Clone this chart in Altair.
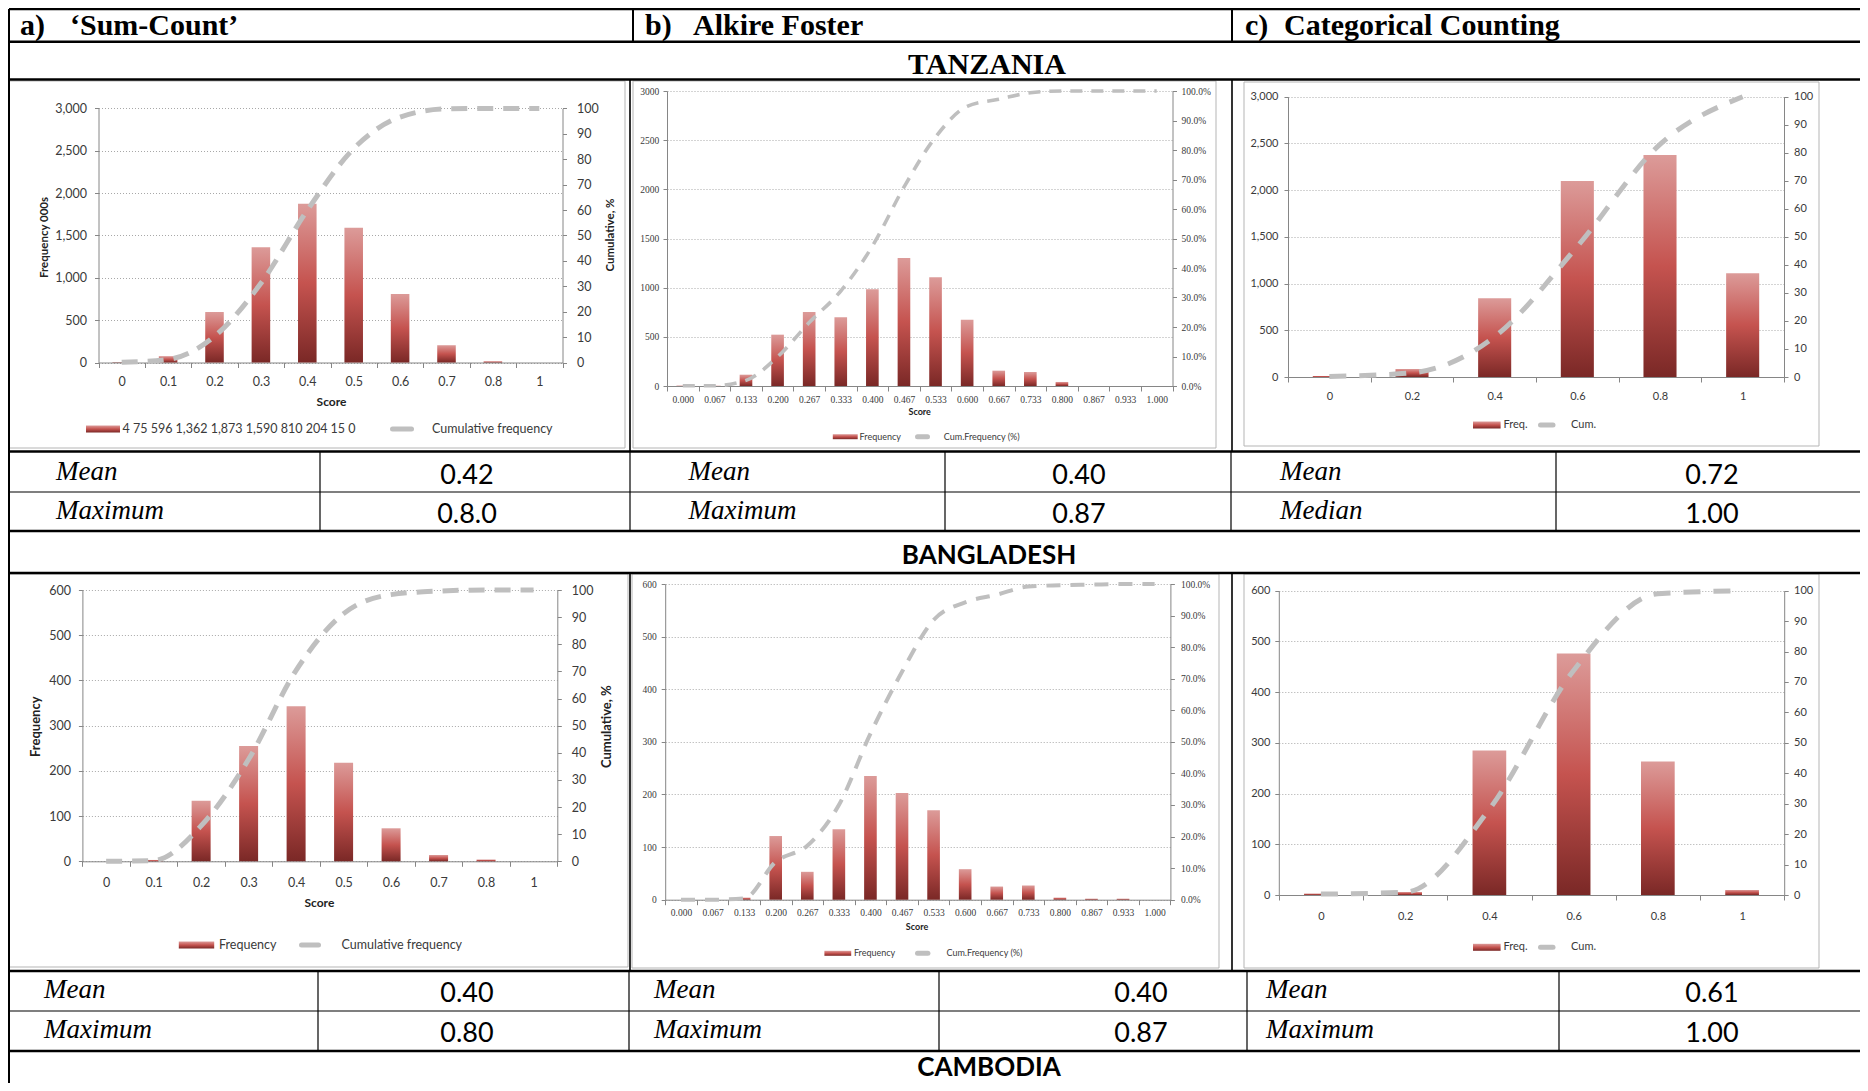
import altair as alt
import pandas as pd

# ---------------------------------------------------------------- data
cats_sum = ["0", "0.1", "0.2", "0.3", "0.4", "0.5", "0.6", "0.7", "0.8", "1"]
cats_af = ["0.000", "0.067", "0.133", "0.200", "0.267", "0.333", "0.400", "0.467",
           "0.533", "0.600", "0.667", "0.733", "0.800", "0.867", "0.933", "1.000"]
cats_cc = ["0", "0.2", "0.4", "0.6", "0.8", "1"]

tz_sum_freq = [4, 75, 596, 1362, 1873, 1590, 810, 204, 15, 0]
tz_sum_cum = [0.1, 1.2, 10.3, 31.2, 59.9, 84.2, 96.6, 99.8, 100, 100]
tz_af_freq = [5, 3, 115, 522, 752, 698, 983, 1302, 1105, 675, 156, 142, 41, 0, 0, 0]
tz_af_cum = [0.1, 0.1, 1.9, 9.9, 21.5, 32.2, 47.4, 67.4, 84.4, 94.8, 97.2, 99.4, 100, 100, 100, 100]
tz_cc_freq = [11, 86, 842, 2098, 2376, 1110]
tz_cc_cum = [0.2, 1.5, 14.4, 46.6, 83.0, 100]

bd_sum_freq = [0, 3, 134, 255, 343, 218, 73, 14, 4, 0]
bd_sum_cum = [0.0, 0.3, 13.1, 37.6, 70.4, 91.3, 98.3, 99.6, 100, 100]
bd_af_freq = [0, 0, 4, 121, 53, 134, 235, 203, 170, 58, 25, 27, 4, 2, 2, 0]
bd_af_cum = [0.0, 0.0, 0.4, 12.0, 17.1, 30.0, 52.6, 72.2, 88.6, 94.2, 96.6, 99.2, 99.6, 99.8, 100, 100]
bd_cc_freq = [3, 6, 285, 476, 263, 10]
bd_cc_cum = [0.3, 0.9, 28.2, 73.8, 99.0, 100]

header_marks = ["a)", "b)", "c)"]
header_names = ["\u2018Sum-Count\u2019", "Alkire Foster", "Categorical Counting"]
countries = ["TANZANIA", "BANGLADESH", "CAMBODIA"]
tz_stat_labels = ["Mean", "Maximum", "Mean", "Maximum", "Mean", "Median"]
tz_stat_values = ["0.42", "0.8.0", "0.40", "0.87", "0.72", "1.00"]
bd_stat_labels = ["Mean", "Maximum", "Mean", "Maximum", "Mean", "Maximum"]
bd_stat_values = ["0.40", "0.80", "0.40", "0.87", "0.61", "1.00"]

legend_sum_tz = [" ".join(f"{v:,}" for v in tz_sum_freq), "Cumulative frequency"]
legend_sum_bd = ["Frequency", "Cumulative frequency"]
legend_af = ["Frequency", "Cum.Frequency (%)"]
legend_cc = ["Freq.", "Cum."]

# ---------------------------------------------------------------- layout (reference pixel coords)
W, H = 1852, 1075
M = 8
AX = "#868686"
LBL = "#3a3a3a"
SANS = "Lato"
SERIF = "Liberation Serif"
GRAD = alt.Gradient(gradient="linear", x1=0, y1=0, x2=0, y2=1, stops=[
    alt.GradientStop(color="#dc9b99", offset=0),
    alt.GradientStop(color="#c5534f", offset=0.5),
    alt.GradientStop(color="#7a2826", offset=1)])


def X(v):
    return v - M


def Y(v):
    return v - M


def panel(cats, freq, cum, box, ymax, ystep, lfmt, pct, st):
    x0, x1, yt, yb = box
    df = pd.DataFrame({"cat": cats, "freq": freq, "cum": cum})
    xs = alt.Scale(type="band", domain=cats, range=[X(x0), X(x1)], paddingInner=0, paddingOuter=0)
    ysl = alt.Scale(domain=[0, ymax], range=[Y(yb), Y(yt)], nice=False, zero=False)
    ysr = alt.Scale(domain=[0, 100], range=[Y(yb), Y(yt)], nice=False, zero=False)
    xaxis = alt.Axis(orient="bottom", offset=Y(yb) - H, tickBand="extent", labelAngle=0, title=None,
                     grid=False, domainColor=AX, tickColor=AX, tickSize=5, labelPadding=st["xpad"],
                     labelFont=st["font"], labelFontSize=st["fs"], labelColor=LBL)
    laxis = alt.Axis(orient="left", offset=-X(x0), values=list(range(0, ymax + 1, ystep)), format=lfmt,
                     title=None, grid=True, gridColor="#a8a8a8", gridDash=[1, 2], gridWidth=1,
                     domainColor=AX, tickColor=AX, tickSize=4, labelPadding=st["lpad"],
                     labelFont=st["font"], labelFontSize=st["fs"], labelColor=LBL)
    rk = dict(orient="right", offset=X(x1) - W, values=list(range(0, 101, 10)), title=None, grid=False,
              domainColor=AX, tickColor=AX, tickSize=4, labelPadding=st["rpad"],
              labelFont=st["font"], labelFontSize=st["fs"], labelColor=LBL)
    if pct:
        rk["labelExpr"] = "format(datum.value, '.1f') + '%'"
    bars = alt.Chart(df).mark_bar(color=GRAD, width=alt.RelativeBandSize(0.4)).encode(
        x=alt.X("cat:N", scale=xs, sort=None, axis=xaxis),
        y=alt.Y("freq:Q", scale=ysl, axis=laxis))
    line = alt.Chart(df).mark_line(color="#bfbfbf", strokeWidth=st["lw"], strokeDash=st["dash"],
                                   interpolate="monotone").encode(
        x=alt.X("cat:N", scale=xs, sort=None, bandPosition=0.5, axis=None),
        y=alt.Y("cum:Q", scale=ysr, axis=alt.Axis(**rk)))
    return [bars, line]


def tlayer(rows, font, size, weight="normal", style="normal", align="left",
           baseline="alphabetic", angle=0, color="black"):
    df = pd.DataFrame(rows, columns=["t", "x", "y"])
    df["x"] = df["x"] - M
    df["y"] = df["y"] - M
    return alt.Chart(df).mark_text(font=font, fontSize=size, fontWeight=weight, fontStyle=style,
                                   align=align, baseline=baseline, angle=angle, color=color).encode(
        x=alt.X("x:Q", scale=None, axis=None), y=alt.Y("y:Q", scale=None, axis=None), text="t:N")


def rlayer(rows):
    df = pd.DataFrame(rows, columns=["x", "x2", "y", "y2", "w", "c"])
    for k in ["x", "x2", "y", "y2"]:
        df[k] = df[k] - M
    return alt.Chart(df).mark_rule().encode(
        x=alt.X("x:Q", scale=None, axis=None), x2="x2:Q",
        y=alt.Y("y:Q", scale=None, axis=None), y2="y2:Q",
        strokeWidth=alt.StrokeWidth("w:Q", scale=None, legend=None),
        color=alt.Color("c:N", scale=None, legend=None))


def boxlayer(rows, **mark):
    df = pd.DataFrame(rows, columns=["x", "x2", "y", "y2"])
    for k in ["x", "x2", "y", "y2"]:
        df[k] = df[k] - M
    return alt.Chart(df).mark_rect(**mark).encode(
        x=alt.X("x:Q", scale=None, axis=None), x2="x2:Q",
        y=alt.Y("y:Q", scale=None, axis=None), y2="y2:Q")


layers = []

# chart frames
frames = [(9, 625, 81, 448), (633, 1216, 81, 448), (1244, 1819, 82, 446),
          (9, 628, 574, 967), (632, 1219, 574, 968), (1244, 1819, 574, 968)]
layers.append(boxlayer(frames, fillOpacity=0, stroke="#b5b5b5", strokeWidth=1))

# table lines
K = "black"
R = []
for yy in [9, 41.7, 79.5, 451.5, 531, 573, 971, 1051]:
    R.append((9, 1870, yy, yy, 2.6, K))
for yy in [492, 1011]:
    R.append((9, 1870, yy, yy, 1.2, K))
R.append((9, 9, 9, 1091, 2, K))
for xx in [633, 1232]:
    R.append((xx, xx, 9, 41.7, 2, K))
for xx in [630, 1232]:
    R.append((xx, xx, 79.5, 451.5, 1.6, K))
    R.append((xx, xx, 573, 971, 1.6, K))
for xx in [320, 630, 945, 1231, 1556]:
    R.append((xx, xx, 451.5, 531, 1.2, K))
for xx in [318, 629, 939, 1247, 1559]:
    R.append((xx, xx, 971, 1051, 1.2, K))
layers.append(rlayer(R))

# panels
stA = dict(font=SANS, fs=12.5, xpad=7.5, lpad=8, rpad=10, lw=5, dash=[16, 10])
stB = dict(font=SERIF, fs=9.5, xpad=3, lpad=4.3, rpad=4.5, lw=3.6, dash=[12, 9])
stC = dict(font=SANS, fs=11, xpad=8, lpad=6, rpad=5.5, lw=5, dash=[17, 13])
stA2 = dict(stA, xpad=10.5)
stB2 = dict(stB, xpad=3.2, lpad=5, rpad=6, lw=4, dash=[14, 10])
stC2 = dict(stC, xpad=10, lpad=5, rpad=5.3)

layers += panel(cats_sum, tz_sum_freq, tz_sum_cum, (98.5, 562.5, 108.4, 362.5), 3000, 500, ",d", False, stA)
layers += panel(cats_af, tz_af_freq, tz_af_cum, (667, 1172.5, 91, 386), 3000, 500, "d", True, stB)
layers += panel(cats_cc, tz_cc_freq, tz_cc_cum, (1288, 1784, 96.7, 377), 3000, 500, ",d", False, stC)
layers += panel(cats_sum, bd_sum_freq, bd_sum_cum, (82.4, 557.3, 590, 861.3), 600, 100, "d", False, stA2)
layers += panel(cats_af, bd_af_freq, bd_af_cum, (665.2, 1170.4, 584, 899.7), 600, 100, "d", True, stB2)
layers += panel(cats_cc, bd_cc_freq, bd_cc_cum, (1278.8, 1784.2, 590.7, 895), 600, 100, "d", False, stC2)

# legends: (swatch x0, x1, text1 x, dash x0, x1, text2 x, y, swatch height)
legs = [
    (86, 120, 122.5, 390, 414, 432, 429, 7, legend_sum_tz, 12.5, SANS),
    (832.8, 857.7, 859.6, 915, 930, 943.8, 436.7, 5, legend_af, 9, SANS),
    (1473, 1500.6, 1503.4, 1538, 1555.5, 1571, 425, 7, legend_cc, 11, SANS),
    (178.8, 214.2, 219, 299, 321, 341.5, 945, 7, legend_sum_bd, 12.5, SANS),
    (824.4, 851.2, 853.9, 915, 930.4, 946.5, 953.3, 5, legend_af, 9, SANS),
    (1473, 1500.6, 1503.4, 1538, 1555.5, 1571, 947.3, 7, legend_cc, 11, SANS),
]
sw = []
dashes = []
for a0, a1, t1, d0, d1, t2, ly, hh, texts, fs, fnt in legs:
    sw.append((a0, a1, ly - hh / 2, ly + hh / 2))
    dashes.append((d0 + 2.5, d1 - 2.5, ly, ly, 5, "#bfbfbf"))
    layers.append(tlayer([(texts[0], t1, ly), (texts[1], t2, ly)], fnt, fs, baseline="middle", color=LBL))
layers.append(boxlayer(sw, color=GRAD))
ddf = pd.DataFrame(dashes, columns=["x", "x2", "y", "y2", "w", "c"])
for k in ["x", "x2", "y", "y2"]:
    ddf[k] = ddf[k] - M
layers.append(alt.Chart(ddf).mark_rule(color="#bfbfbf", strokeWidth=5, strokeCap="round").encode(
    x=alt.X("x:Q", scale=None, axis=None), x2="x2:Q", y=alt.Y("y:Q", scale=None, axis=None)))

# axis titles
layers.append(tlayer([("Frequency 000s", 45, 237.5), ("Cumulative, %", 611, 235)], SANS, 11.5,
                     weight="bold", align="center", baseline="middle", angle=270, color="#222"))
layers.append(tlayer([("Frequency", 36, 726.7), ("Cumulative, %", 606.7, 726.7)], SANS, 13,
                     weight="bold", align="center", baseline="middle", angle=270, color="#222"))
layers.append(tlayer([("Score", 331.5, 401.7), ("Score", 319.4, 903.3)], SANS, 12,
                     weight="bold", align="center", baseline="middle", color="#222"))
layers.append(tlayer([("Score", 919.7, 411.7), ("Score", 917, 926.7)], SANS, 9,
                     weight="bold", align="center", baseline="middle", color="#222"))

# table texts
hx_marks = [20, 645, 1245]
hx_names = [70, 693, 1284]
layers.append(tlayer([(t, x, 35) for t, x in zip(header_marks, hx_marks)] +
                     [(t, x, 35) for t, x in zip(header_names, hx_names)], SERIF, 30, weight="bold"))
layers.append(tlayer([(countries[0], 987, 73.5)], SERIF, 30, weight="bold", align="center"))
layers.append(tlayer([(countries[1], 989, 563.5), (countries[2], 989, 1075.5)], SANS, 26,
                     weight="bold", align="center"))

lab_x1 = [56, 56, 688.6, 688.6, 1280, 1280]
val_x1 = [467, 467, 1079, 1079, 1712, 1712]
lab_x2 = [44, 44, 654, 654, 1266, 1266]
val_x2 = [467, 467, 1141, 1141, 1712, 1712]
yy1 = [480, 519] * 3
yy2 = [998, 1038] * 3
layers.append(tlayer([(t, x, y) for t, x, y in zip(tz_stat_labels, lab_x1, yy1)] +
                     [(t, x, y) for t, x, y in zip(bd_stat_labels, lab_x2, yy2)],
                     SERIF, 27, style="italic"))
layers.append(tlayer([(t, x, y + 3.5) for t, x, y in zip(tz_stat_values, val_x1, yy1)] +
                     [(t, x, y + 3.5) for t, x, y in zip(bd_stat_values, val_x2, yy2)],
                     SANS, 27, align="center"))

chart = alt.layer(*layers).resolve_scale(x="independent", y="independent").properties(
    width=W, height=H, padding=0, autosize=alt.AutoSizeParams(type="none")
).configure_view(strokeWidth=0)

chart.save("out.html", embed_options={"renderer": "svg", "actions": False})
